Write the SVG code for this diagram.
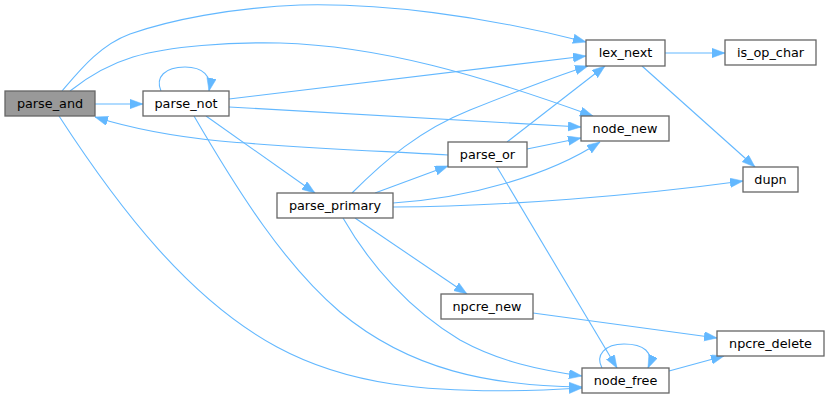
<svg xmlns="http://www.w3.org/2000/svg" width="829" height="402" viewBox="0 0 829 402">
<style>
.n rect{fill:#ffffff;stroke:#666666;stroke-width:1.3}
.n.cur rect{fill:#999999}
.n text{font-family:"DejaVu Sans",sans-serif;font-size:12.8px;fill:#000000;text-anchor:middle}
.e path{fill:none;stroke:#63b8ff;stroke-width:1.1;marker-end:url(#ah)}
</style>
<defs>
<marker id="ah" markerUnits="userSpaceOnUse" markerWidth="14" markerHeight="10" refX="13" refY="4.7" orient="auto">
<path d="M0,0 L13,4.7 L0,9.4 z" fill="#63b8ff" stroke="#63b8ff" stroke-width="0.5"/>
</marker>
</defs>
<rect width="829" height="402" fill="#ffffff"/>
<g id="edges" class="e">
<path d="M62,91 C80,70 100,45 130,34 C170,20 230,8 300,5 C380,3 480,15 586,42"/>
<path d="M70,91 C90,75 110,64 133,57 C170,46 230,42 280,43 C380,46 480,75 593,116"/>
<path d="M95,104 L143,104"/>
<path d="M59,116 C120,210 190,300 277,347 C340,381 420,398 582,388"/>
<path d="M161,91 C155,77 165,67 185,67 C203,67 212,76 209,91"/>
<path d="M229,99 L586,56"/>
<path d="M229,107 L581,127"/>
<path d="M206,116 L315,193"/>
<path d="M194,116 C240,195 285,265 340,312 C410,370 490,386 582,387"/>
<path d="M448,155 C380,151 300,148 220,141 C170,136 130,128 95,117"/>
<path d="M507,142 L605,66"/>
<path d="M527,149 L581,138"/>
<path d="M497,167 L617,368"/>
<path d="M352,193 C385,160 420,130 470,110 C510,94 550,78 588,66"/>
<path d="M375,193 L448,166"/>
<path d="M393,203 C470,198 550,175 600,142"/>
<path d="M393,207 C500,207 640,195 743,181"/>
<path d="M355,218 L467,294"/>
<path d="M343,218 C370,265 410,310 460,340 C500,362 540,370 582,376"/>
<path d="M665,53 L725,53"/>
<path d="M642,66 L755,167"/>
<path d="M533,313 L717,338"/>
<path d="M669,371 L724,356"/>
<path d="M602,368 C595,355 605,344 624,344 C643,344 655,352 648,368"/>
</g>
<g id="parse_and" class="n cur"><rect x="5" y="91" width="90" height="25"/><text x="50" y="108">parse_and</text></g>
<g id="parse_not" class="n"><rect x="143" y="91" width="86" height="25"/><text x="186" y="108">parse_not</text></g>
<g id="parse_primary" class="n"><rect x="277" y="193" width="116" height="25"/><text x="335" y="210">parse_primary</text></g>
<g id="parse_or" class="n"><rect x="448" y="142" width="79" height="25"/><text x="487.5" y="159">parse_or</text></g>
<g id="lex_next" class="n"><rect x="586" y="40" width="79" height="26"/><text x="625.5" y="57">lex_next</text></g>
<g id="is_op_char" class="n"><rect x="725" y="40" width="91" height="25"/><text x="770.5" y="57">is_op_char</text></g>
<g id="node_new" class="n"><rect x="581" y="116" width="88" height="25"/><text x="625" y="133">node_new</text></g>
<g id="dupn" class="n"><rect x="743" y="167" width="55" height="25"/><text x="770.5" y="184">dupn</text></g>
<g id="npcre_new" class="n"><rect x="441" y="294" width="92" height="25"/><text x="487" y="311">npcre_new</text></g>
<g id="npcre_delete" class="n"><rect x="717" y="331" width="107" height="25"/><text x="770.5" y="348">npcre_delete</text></g>
<g id="node_free" class="n"><rect x="582" y="368" width="87" height="25"/><text x="625.5" y="385">node_free</text></g>
</svg>
